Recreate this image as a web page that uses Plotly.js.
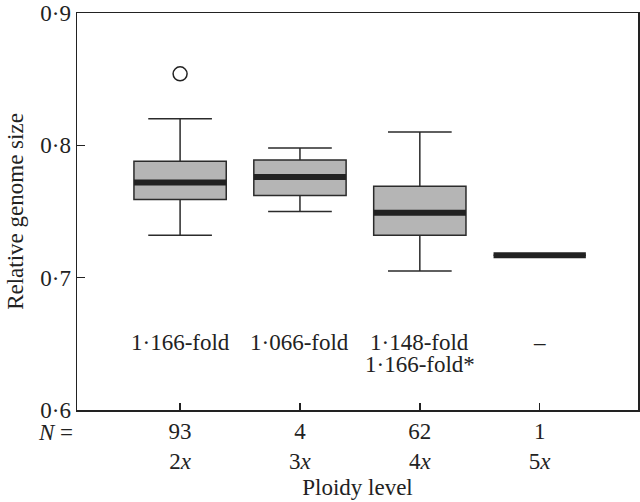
<!DOCTYPE html>
<html>
<head>
<meta charset="utf-8">
<script src="https://cdn.plot.ly/plotly-3.0.1.min.js"></script>
<style>
  html, body { margin: 0; padding: 0; background: #fff; }
  #chart { width: 640px; height: 502px; }
</style>
</head>
<body>
<div id="chart"></div>
<script>
// Ploidy groups and sample sizes
const ploidy = ["2x", "3x", "4x", "5x"];
const sampleN = [93, 4, 62, 1];

// Box statistics
const lowerWhisker = [0.732, 0.750, 0.705, 0.717];
const q1 = [0.759, 0.762, 0.732, 0.717];
const median = [0.772, 0.776, 0.749, 0.717];
const q3 = [0.788, 0.789, 0.769, 0.717];
const upperWhisker = [0.820, 0.798, 0.810, 0.717];

// Outliers
const outlierGroup = [0];
const outlierValue = [0.854];

// Fold-change annotations under each box
const foldText = ["1·166-fold", "1·066-fold", "1·148-fold<br>1·166-fold*", "–"];
const foldY = 0.651;

// y ticks
const yTicks = [0.6, 0.7, 0.8, 0.9];
const yTickText = ["0·6", "0·7", "0·8", "0·9"];

const FONT = "Liberation Serif, Times New Roman, serif";
const FS = 23;
const BOXW = 0.77;
const xPos = ploidy.map((_, i) => i);

const boxTrace = {
  type: "box",
  x: xPos,
  q1: q1,
  median: median,
  q3: q3,
  lowerfence: lowerWhisker,
  upperfence: upperWhisker,
  width: BOXW,
  whiskerwidth: 0.69,
  fillcolor: "#b5b5b5",
  line: { color: "#2b2b2b", width: 1.5 },
  boxpoints: false,
  hoverinfo: "skip",
  showlegend: false
};

// thick median bars
const medX = [];
const medY = [];
median.forEach((m, i) => {
  medX.push(i - BOXW / 2, i + BOXW / 2, null);
  medY.push(m, m, null);
});
const medianTrace = {
  type: "scatter",
  mode: "lines",
  x: medX,
  y: medY,
  line: { color: "#222", width: 6 },
  hoverinfo: "skip",
  showlegend: false
};

const outlierTrace = {
  type: "scatter",
  mode: "markers",
  x: outlierGroup,
  y: outlierValue,
  marker: { symbol: "circle-open", size: 14, color: "#222", line: { width: 1.5 } },
  hoverinfo: "skip",
  showlegend: false
};

// one annotation per text line so the line spacing stays tight
const annotations = [];
foldText.forEach((t, i) => {
  t.split("<br>").forEach((line, k) => {
    annotations.push({
      x: i, y: foldY, xref: "x", yref: "y",
      text: line, showarrow: false, yanchor: "middle", yshift: -k * 22,
      font: { family: FONT, size: FS, color: "#222" }
    });
  });
});
annotations.push({
  x: 0, y: 0, xref: "paper", yref: "paper",
  xanchor: "right", yanchor: "middle", xshift: -2, yshift: -22,
  text: "<i>N</i> =", showarrow: false,
  font: { family: FONT, size: FS, color: "#222" }
});

const layout = {
  width: 640,
  height: 502,
  margin: { l: 77, r: 2, t: 13, b: 92 },
  paper_bgcolor: "#fff",
  plot_bgcolor: "#fff",
  font: { family: FONT, size: FS, color: "#222" },
  showlegend: false,
  xaxis: {
    range: [-0.86, 3.82],
    tickvals: xPos,
    ticktext: ploidy.map((p, i) => sampleN[i] + "<br>" + p[0] + "<i>x</i>"),
    ticks: "inside",
    ticklen: 7,
    tickwidth: 1.5,
    tickcolor: "#222",
    showline: true,
    linecolor: "#222",
    linewidth: 1.5,
    mirror: true,
    showgrid: false,
    zeroline: false,
    title: { text: "Ploidy level", font: { family: FONT, size: FS }, standoff: 6 }
  },
  yaxis: {
    range: [0.6, 0.9],
    tickvals: yTicks,
    ticktext: yTickText,
    ticks: "inside",
    ticklen: 8,
    tickwidth: 1.5,
    tickcolor: "#222",
    showline: true,
    linecolor: "#222",
    linewidth: 1.5,
    mirror: true,
    showgrid: false,
    zeroline: false,
    title: { text: "Relative genome size", font: { family: FONT, size: FS }, standoff: 10 }
  },
  annotations: annotations
};

Plotly.newPlot("chart", [boxTrace, medianTrace, outlierTrace], layout, { staticPlot: true });
</script>
</body>
</html>
